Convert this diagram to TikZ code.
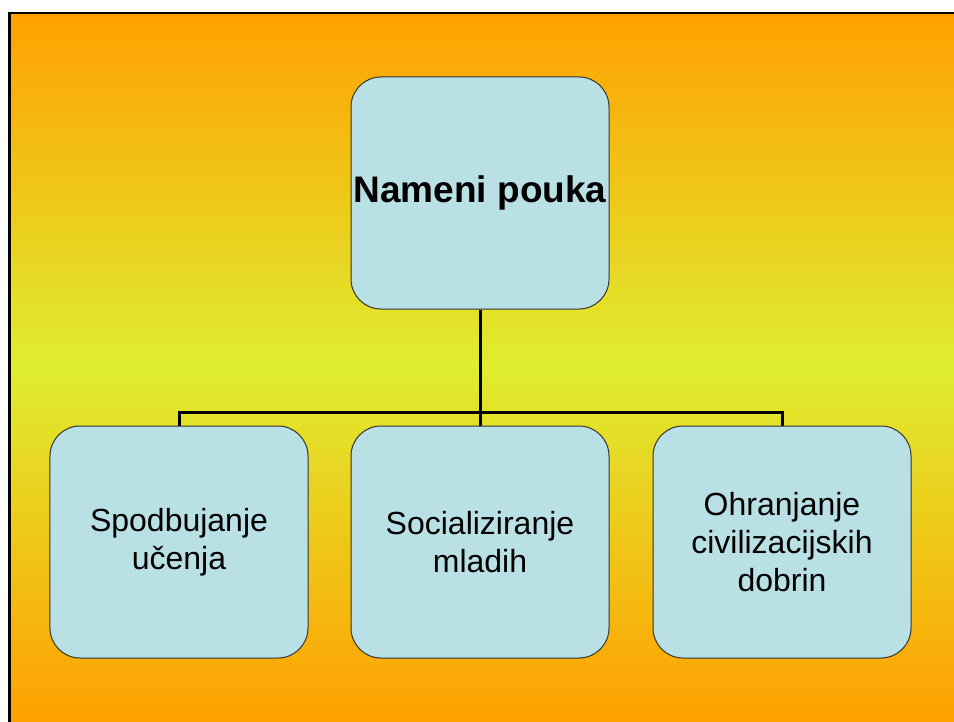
\documentclass[tikz,border=0pt]{standalone}
\usepackage{fontspec}
\setmainfont{Liberation Sans}
\begin{document}
\begin{tikzpicture}[x=1bp,y=-1bp,
  box/.style={draw=black!80, line width=1bp, fill=boxblue, rounded corners=30bp,
    minimum width=258bp, minimum height=232bp, align=center, inner sep=2bp,
    font=\fontsize{32bp}{38bp}\selectfont},
  topbox/.style={box, font=\fontsize{37bp}{42bp}\selectfont\bfseries},
  conn/.style={line width=3bp, black}]
\definecolor{boxblue}{HTML}{B9E0E4}
\definecolor{bgorange}{HTML}{FFA000}
\definecolor{bgyellow}{HTML}{DFED30}
\useasboundingbox (0,0) rectangle (954,722);
\foreach \yy in {12,14,...,722}{
  \pgfmathsetmacro{\pp}{min(100,abs(\yy+1-367)/3.55)}
  \fill[bgorange!\pp!bgyellow] (8,\yy) rectangle (970,\yy+2.3);
}
\draw[line width=2.5bp, black] (9.25,735) -- (9.25,13.25) -- (970,13.25);
\node[topbox] (top) at (480,193) {Nameni pouka};
\node[box] (b1) at (179,542) {Spodbujanje\\učenja};
\node[box] (b2) at (480,542) {Socializiranje\\mladih};
\node[box] (b3) at (782,542) {Ohranjanje\\civilizacijskih\\dobrin};
\coordinate (bus) at (480,412);
\draw[conn] (top.south) -- (bus);
\draw[conn] (b1.north) -- (b1.north |- bus) -- (b3.north |- bus) -- (b3.north);
\draw[conn] (b2.north) -- (bus);
\end{tikzpicture}
\end{document}
